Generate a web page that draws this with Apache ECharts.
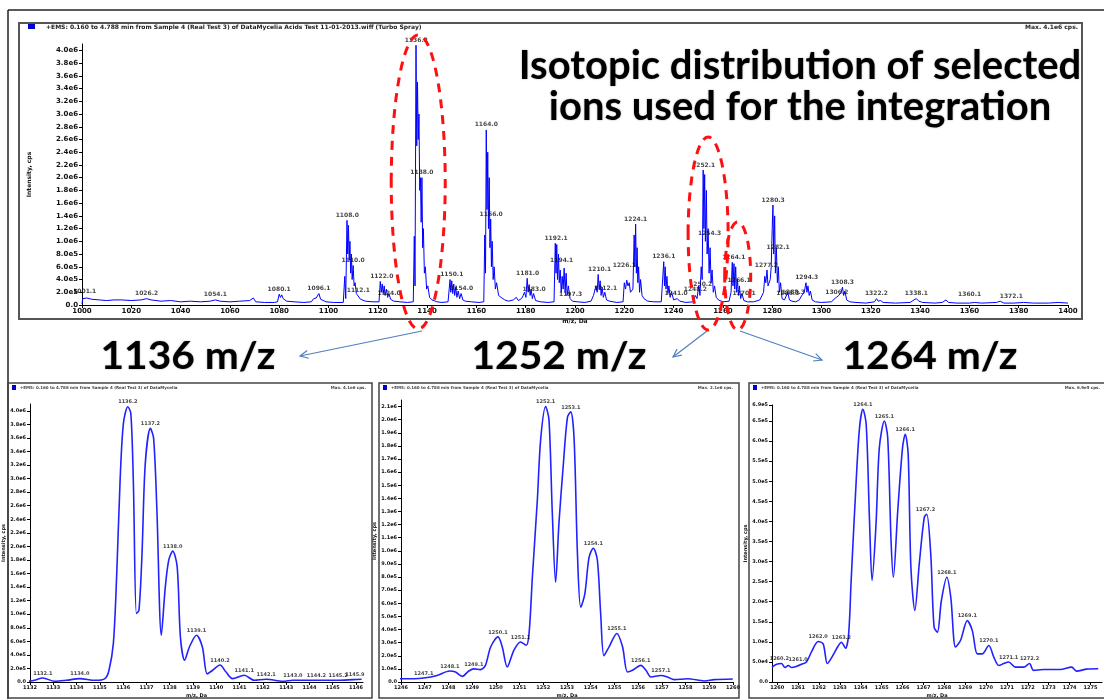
<!DOCTYPE html>
<html><head><meta charset="utf-8">
<script src="https://cdn.jsdelivr.net/npm/echarts@6/dist/echarts.min.js"></script>
<style>html,body{margin:0;padding:0;background:#fff}#c{width:1104px;height:699px}</style>
</head><body><div id="c"></div>
<script>
// ---------- DATA (intensities in millions of cps) ----------
const mainMz = [1000.0,1000.3,1001.1,1002,1004,1007,1010,1013,1016,1020,1024,1026.2,1028,1032,1036,1040,1044,1048,1052,1054.1,1056,1060,1064,1068,1069.5,1070.5,1074,1078,1079.3,1080.0,1080.5,1081.0,1081.6,1082.3,1083,1086,1090,1093,1094.0,1095.0,1096.1,1096.8,1097.5,1099,1102,1106,1106.6,1107.0,1107.5,1107.8,1108.1,1108.4,1108.7,1109.0,1109.3,1109.6,1110.0,1110.4,1110.8,1111.3,1112.1,1113,1115,1118,1120.5,1121.0,1121.4,1121.8,1122.2,1122.6,1123.0,1123.5,1124.0,1124.5,1125.2,1126.5,1129,1132,1134.4,1134.8,1135.1,1135.5,1135.8,1136.1,1136.4,1136.7,1137.0,1137.3,1137.6,1137.9,1138.2,1138.5,1138.9,1139.3,1139.8,1140.3,1141,1142,1144,1146,1148.5,1149.3,1149.6,1150.0,1150.4,1150.8,1151.2,1151.6,1152.1,1152.6,1153.2,1153.8,1154.5,1155.5,1158,1161,1163.0,1163.4,1163.7,1164.0,1164.3,1164.6,1164.9,1165.2,1165.5,1165.8,1166.1,1166.4,1166.8,1167.2,1167.7,1168.2,1169,1170,1171.5,1173,1175,1176.2,1177,1178.3,1179,1179.5,1180.1,1180.6,1181.0,1181.4,1181.8,1182.2,1182.7,1183.2,1184,1186,1189,1191.5,1192.0,1192.3,1192.6,1192.9,1193.3,1193.6,1194.0,1194.4,1194.8,1195.2,1195.6,1196.0,1196.4,1196.8,1197.3,1198,1199,1201,1204,1206.5,1207.5,1208.5,1209.0,1209.4,1209.8,1210.2,1210.6,1211.0,1211.5,1212.1,1212.8,1214,1217,1219.5,1220.0,1220.5,1221.0,1221.5,1222,1222.5,1223.5,1224.0,1224.3,1224.6,1224.9,1225.2,1225.5,1225.8,1226.2,1226.6,1227.2,1228,1229.5,1232,1235,1236.0,1236.3,1236.6,1236.9,1237.3,1237.7,1238.1,1238.6,1239.2,1240,1241.5,1242.5,1245,1248,1248.8,1249.5,1250.2,1250.7,1251.2,1251.6,1252.0,1252.3,1252.6,1252.9,1253.3,1253.6,1254.0,1254.4,1254.8,1255.2,1255.6,1256.1,1256.6,1257.3,1258.2,1260,1262.5,1263.3,1263.8,1264.1,1264.5,1264.8,1265.2,1265.5,1265.9,1266.3,1266.7,1267.2,1267.7,1268.5,1270,1272.5,1275,1276.5,1277.0,1277.4,1277.9,1278.3,1279.2,1279.6,1280.0,1280.3,1280.6,1281.0,1281.3,1281.7,1282.1,1282.5,1282.9,1283.4,1284,1285,1286.3,1287,1288,1289.5,1291,1292,1293,1293.7,1294.1,1294.5,1295,1295.5,1296.2,1297.5,1300,1304,1306,1307,1308.0,1308.5,1309,1309.5,1310.2,1311.5,1314,1318,1321.5,1322.3,1323,1324,1325,1330,1336,1337.5,1338.5,1339.5,1341,1346,1349,1350.5,1351.5,1355,1360,1362,1365,1371,1372.5,1374,1378,1382,1386,1392,1396,1400];
const mainInt = [0.02,0.10,0.13,0.11,0.09,0.08,0.07,0.08,0.08,0.07,0.08,0.10,0.08,0.06,0.07,0.05,0.06,0.05,0.06,0.08,0.06,0.05,0.06,0.07,0.11,0.05,0.04,0.04,0.05,0.17,0.12,0.16,0.10,0.11,0.06,0.05,0.04,0.05,0.10,0.11,0.18,0.09,0.07,0.05,0.04,0.04,0.45,0.10,1.33,0.80,1.25,0.70,1.00,0.50,0.80,0.40,0.62,0.30,0.35,0.18,0.20,0.09,0.06,0.05,0.05,0.37,0.20,0.33,0.18,0.30,0.15,0.25,0.12,0.18,0.09,0.06,0.05,0.04,0.05,1.08,0.30,4.08,2.50,3.50,2.60,3.00,1.80,2.00,1.30,2.00,0.90,1.20,0.50,0.60,0.25,0.30,0.12,0.08,0.05,0.04,0.05,0.40,0.20,0.38,0.18,0.33,0.15,0.28,0.12,0.22,0.10,0.18,0.08,0.06,0.05,0.04,0.05,1.10,0.50,2.75,1.50,2.40,1.20,2.00,0.90,1.35,0.60,1.00,0.40,0.60,0.25,0.35,0.15,0.12,0.08,0.06,0.08,0.12,0.07,0.10,0.15,0.20,0.12,0.42,0.20,0.32,0.15,0.25,0.10,0.18,0.07,0.05,0.04,0.05,0.97,0.50,0.95,0.40,0.80,0.35,0.55,0.20,0.45,0.25,0.58,0.20,0.50,0.15,0.30,0.10,0.06,0.05,0.04,0.06,0.15,0.30,0.20,0.48,0.25,0.38,0.15,0.28,0.12,0.20,0.08,0.06,0.04,0.05,0.35,0.25,0.39,0.30,0.35,0.20,0.25,1.10,0.60,1.27,0.50,0.90,0.35,0.60,0.20,0.40,0.15,0.10,0.06,0.05,0.05,0.68,0.30,0.60,0.25,0.45,0.18,0.30,0.12,0.20,0.08,0.10,0.06,0.04,0.05,0.15,0.10,0.30,0.15,0.60,0.40,2.12,1.20,2.05,1.00,1.80,0.80,1.20,0.50,0.90,0.35,0.55,0.20,0.30,0.12,0.08,0.05,0.06,0.20,0.67,0.30,0.65,0.25,0.60,0.20,0.40,0.15,0.30,0.10,0.18,0.07,0.05,0.05,0.08,0.20,0.45,0.35,0.55,0.30,0.40,0.60,1.20,1.57,0.80,1.40,0.50,0.90,0.35,0.60,0.20,0.35,0.10,0.08,0.20,0.08,0.06,0.05,0.08,0.15,0.20,0.35,0.20,0.30,0.15,0.22,0.08,0.05,0.04,0.05,0.12,0.15,0.20,0.28,0.15,0.22,0.08,0.05,0.04,0.03,0.05,0.10,0.06,0.07,0.04,0.03,0.04,0.08,0.10,0.06,0.04,0.03,0.04,0.08,0.04,0.03,0.03,0.04,0.03,0.04,0.06,0.03,0.03,0.04,0.03,0.03,0.04,0.03];
const mainLabelMz   = [1001.1,1026.2,1054.1,1080.0,1096.1,1107.6,1110.0,1112.1,1121.6,1124.6,1135.6,1137.9,1150.0,1154.0,1164.0,1166.0,1180.8,1183.4,1192.3,1194.6,1198.2,1210.0,1212.4,1220.0,1224.6,1236.0,1241.0,1248.8,1251.0,1252.2,1254.6,1264.4,1266.6,1268.6,1277.6,1280.4,1282.4,1286.3,1288.6,1294.0,1306.2,1308.5,1322.3,1338.5,1360.1,1377.0];
const mainLabelInt  = [0.13,0.10,0.08,0.17,0.18,1.33,0.62,0.15,0.37,0.10,4.08,2.00,0.40,0.18,2.75,1.35,0.42,0.16,0.97,0.62,0.08,0.48,0.18,0.55,1.27,0.68,0.10,0.16,0.25,2.12,1.05,0.67,0.30,0.10,0.55,1.57,0.82,0.10,0.12,0.35,0.12,0.28,0.10,0.10,0.08,0.06];
const mainLabelText = ['1001.1','1026.2','1054.1','1080.1','1096.1','1108.0','1110.0','1112.1','1122.0','1124.0','1136.2','1138.0','1150.1','1154.0','1164.0','1166.0','1181.0','1183.0','1192.1','1194.1','1197.3','1210.1','1212.1','1226.1','1224.1','1236.1','1241.0','1248.2','1250.2','1252.1','1254.3','1264.1','1266.1','1270.1','1277.2','1280.3','1282.1','1286.3','1288.3','1294.3','1306.2','1308.3','1322.2','1338.1','1360.1','1372.1'];

const p1Mz  = [1131.91,1132.19,1132.55,1133.06,1133.56,1134.14,1134.79,1135.22,1135.39,1135.58,1135.72,1135.87,1136.01,1136.20,1136.33,1136.44,1136.57,1136.68,1136.81,1136.95,1137.17,1137.31,1137.45,1137.64,1137.81,1137.96,1138.13,1138.32,1138.46,1138.64,1138.85,1139.15,1139.40,1139.61,1139.83,1140.16,1140.41,1140.70,1141.20,1141.63,1142.14,1142.86,1143.29,1144.30,1145.23,1145.88,1146.24];
const p1Int = [0.01,0.025,0.06,0.01,0.025,0.05,0.025,0.05,0.17,0.57,1.55,2.98,3.81,4.06,3.96,2.93,1.01,1.06,1.89,3.22,3.74,3.59,2.53,0.69,1.40,1.80,1.93,1.70,0.66,0.32,0.52,0.69,0.52,0.12,0.17,0.25,0.15,0.05,0.10,0.025,0.04,0.01,0.025,0.025,0.025,0.035,0.04];
const p1LabelMz   = [1132.55,1134.14,1136.2,1137.17,1138.13,1139.15,1140.16,1141.2,1142.14,1143.29,1144.3,1145.23,1145.95];
const p1LabelInt  = [0.06,0.05,4.06,3.74,1.93,0.69,0.25,0.10,0.04,0.025,0.025,0.025,0.035];
const p1LabelText = ['1132.1','1134.0','1136.2','1137.2','1138.0','1139.1','1140.2','1141.1','1142.1','1143.0','1144.2','1145.2','1145.9'];

const p2Mz  = [1245.95,1246.54,1246.96,1247.52,1248.06,1248.30,1248.58,1248.86,1249.07,1249.35,1249.56,1249.78,1250.09,1250.27,1250.48,1250.76,1251.04,1251.28,1251.40,1251.54,1251.75,1251.89,1252.10,1252.24,1252.38,1252.52,1252.66,1252.85,1253.02,1253.16,1253.30,1253.44,1253.58,1253.75,1253.93,1254.11,1254.28,1254.42,1254.56,1254.78,1255.10,1255.34,1255.55,1255.76,1256.11,1256.33,1256.54,1256.96,1257.24,1257.52,1258.09,1258.79,1259.21,1259.99];
const p2Int = [0.025,0.025,0.03,0.05,0.084,0.076,0.043,0.084,0.10,0.094,0.127,0.267,0.344,0.267,0.115,0.242,0.305,0.28,0.369,0.80,1.39,1.85,2.10,2.00,1.29,0.76,1.21,1.67,2.02,2.06,1.85,0.98,0.57,0.67,0.95,1.02,0.93,0.52,0.20,0.27,0.37,0.27,0.076,0.089,0.127,0.089,0.038,0.05,0.038,0.018,0.025,0.008,0.018,0.023];
const p2LabelMz   = [1246.96,1248.06,1249.07,1250.09,1251.04,1252.10,1253.16,1254.11,1255.10,1256.11,1256.96];
const p2LabelInt  = [0.03,0.084,0.10,0.344,0.305,2.10,2.06,1.02,0.37,0.127,0.05];
const p2LabelText = ['1247.1','1248.1','1249.1','1250.1','1251.1','1252.1','1253.1','1254.1','1255.1','1256.1','1257.1'];

const p3Mz  = [1259.75,1259.97,1260.21,1260.37,1260.53,1260.69,1260.93,1261.16,1261.40,1261.64,1261.96,1262.20,1262.40,1262.62,1262.91,1263.07,1263.27,1263.42,1263.54,1263.78,1263.94,1264.10,1264.26,1264.42,1264.54,1264.73,1264.89,1265.13,1265.29,1265.45,1265.56,1265.77,1266.00,1266.13,1266.27,1266.40,1266.59,1266.80,1267.04,1267.16,1267.35,1267.51,1267.67,1267.86,1268.12,1268.31,1268.54,1268.78,1269.10,1269.34,1269.58,1269.81,1270.13,1270.37,1270.61,1270.85,1271.08,1271.40,1271.80,1272.08,1272.27,1272.75,1273.54,1274.10,1274.34,1274.81,1275.37];
const p3Int = [0.037,0.044,0.046,0.036,0.041,0.036,0.039,0.044,0.050,0.075,0.101,0.095,0.046,0.062,0.089,0.099,0.084,0.12,0.253,0.50,0.633,0.679,0.642,0.40,0.253,0.393,0.584,0.65,0.609,0.352,0.261,0.426,0.584,0.617,0.567,0.286,0.178,0.294,0.41,0.418,0.319,0.137,0.124,0.203,0.261,0.211,0.087,0.104,0.153,0.128,0.07,0.07,0.091,0.062,0.041,0.046,0.05,0.037,0.037,0.046,0.029,0.031,0.031,0.037,0.027,0.032,0.033];
const p3LabelMz   = [1260.1,1261.0,1261.96,1263.07,1264.10,1265.13,1266.13,1267.1,1268.12,1269.10,1270.13,1271.08,1272.08];
const p3LabelInt  = [0.046,0.044,0.101,0.099,0.679,0.65,0.617,0.418,0.261,0.153,0.091,0.05,0.046];
const p3LabelText = ['1260.2','1261.0','1262.0','1263.2','1264.1','1265.1','1266.1','1267.2','1268.1','1269.1','1270.1','1271.1','1272.2'];

const p3XTicks = [1260,1261,1262,1263,1264,1265,1266,1267,1268,1269,1270,1271,1272,1273,1274,1275];

const headerText = '+EMS: 0.160 to 4.788 min from Sample 4 (Real Test 3) of DataMycelia Acids Test 11-01-2013.wiff (Turbo Spray)';
const panelHeader = '+EMS: 0.160 to 4.788 min from Sample 4 (Real Test 3) of DataMycelia';
const maxTexts = ['Max. 4.1e6 cps.','Max. 4.1e6 cps.','Max. 2.1e6 cps.','Max. 6.9e5 cps.'];
const bigTitle = ['Isotopic distribution of selected','ions used for the integration'];
const ionTitles = ['1136 m/z','1252 m/z','1264 m/z'];
const selectedMz = [1136.4, 1254, 1266];

// ---------- helpers ----------
function fmtE(v){
  const a = Math.round(v*1e6);
  if (a === 0) return '0.0';
  let e = Math.floor(Math.log10(a)+1e-9);
  return (a/Math.pow(10,e)).toFixed(1)+'e'+e;
}
const zip = (a,b)=>a.map((x,i)=>[x,b[i]]);
const zip3 = (a,b,c)=>a.map((x,i)=>({value:[x,b[i]], name:c[i]}));
const TXT = '#111';
const FF = 'DejaVu Sans';

function xAx(gi, min, max, interval, fs, showMax, extra){
  return Object.assign({
    type:'value', gridIndex:gi, min, max, interval,
    name:'m/z, Da', nameLocation:'middle', nameGap: gi===0?13:11,
    nameTextStyle:{fontSize: gi===0?6:5, color:TXT, fontFamily:FF, fontWeight:'bold'},
    axisLine:{lineStyle:{color:'#000',width:1}},
    axisTick:{length:3, lineStyle:{color:'#000'}},
    axisLabel:{fontSize:fs, color:TXT, fontFamily:FF, fontWeight:'bold', margin:3, showMaxLabel:showMax,
      formatter:v=>String(Math.round(v))},
    splitLine:{show:false}
  }, extra||{});
}
function yAx(gi, max, interval, fs, gap, showMax){
  return {
    type:'value', gridIndex:gi, min:0, max, interval,
    name:'Intensity, cps', nameLocation:'middle', nameGap:gap,
    nameTextStyle:{fontSize: gi===0?6:5, color:TXT, fontFamily:FF, fontWeight:'bold'},
    axisLine:{show:true, lineStyle:{color:'#000',width:1}},
    axisTick:{show:true, length:3, lineStyle:{color:'#000'}},
    axisLabel:{fontSize:fs, color:TXT, fontFamily:FF, fontWeight:'bold', margin:4, showMaxLabel:showMax,
      formatter:fmtE},
    splitLine:{show:false}
  };
}
function lineSeries(xi, data, color, width, smooth){
  return {type:'line', xAxisIndex:xi, yAxisIndex:xi, data, showSymbol:false, symbol:'none',
    smooth, lineStyle:{color, width}, animation:false, silent:true, z:3};
}
function labelSeries(xi, data, fs){
  return {type:'scatter', xAxisIndex:xi, yAxisIndex:xi, data, symbolSize:0.1, animation:false, silent:true, z:4,
    itemStyle:{color:'rgba(0,0,0,0)'},
    label:{show:true, position:'top', distance:2, formatter:p=>p.name, fontSize:fs, color:TXT, fontFamily:FF, fontWeight:'bold'}};
}

const chart = echarts.init(document.getElementById('c'), null, {renderer:'canvas'});
chart.setOption({
  animation:false,
  backgroundColor:'#fff',
  grid:[
    {left:82, right:36, top:44, bottom:394},
    {left:30, right:741, top:404, bottom:17},
    {left:401, right:371, top:400, bottom:17},
    {left:772, right:2, top:405, bottom:17}
  ],
  xAxis:[
    xAx(0,1000,1400,20,7,true),
    xAx(1,1132,1146.3,1,5,false),
    xAx(2,1246,1260,1,5,true),
    xAx(3,1259.75,1275.55,null,5,false,{axisLabel:{fontSize:5,color:TXT,fontFamily:FF,fontWeight:'bold',margin:3,customValues:p3XTicks,formatter:v=>String(Math.round(v))}, axisTick:{length:3,lineStyle:{color:'#000'},customValues:p3XTicks}})
  ],
  yAxis:[
    yAx(0,4.1,0.2,7,50,false),
    yAx(1,4.1,0.2,5,17,false),
    yAx(2,2.15,0.1,5,19,false),
    yAx(3,0.69,0.05,5,20,true)
  ],
  series:[
    lineSeries(0, zip(mainMz, mainInt), '#0000ff', 1, false),
    labelSeries(0, zip3(mainLabelMz, mainLabelInt, mainLabelText), 6),
    lineSeries(1, zip(p1Mz, p1Int), '#2222ff', 1.6, 0.3),
    labelSeries(1, zip3(p1LabelMz, p1LabelInt, p1LabelText), 5),
    lineSeries(2, zip(p2Mz, p2Int), '#2222ff', 1.6, 0.3),
    labelSeries(2, zip3(p2LabelMz, p2LabelInt, p2LabelText), 5),
    lineSeries(3, zip(p3Mz, p3Int), '#2222ff', 1.6, 0.3),
    labelSeries(3, zip3(p3LabelMz, p3LabelInt, p3LabelText), 5)
  ]
});

// ---------- annotations ----------
const g = [];
const stroke = (c,w)=>({fill:'rgba(0,0,0,0)', stroke:c, lineWidth:w});
// outer slide frame
g.push({type:'line', shape:{x1:8,y1:10,x2:1104,y2:10}, style:{stroke:'#222',lineWidth:1.5}});
g.push({type:'line', shape:{x1:8,y1:10,x2:8,y2:699}, style:{stroke:'#222',lineWidth:1.5}});
// main frame + header
g.push({type:'rect', shape:{x:19,y:23,width:1063,height:296}, style:stroke('#555',2)});
g.push({type:'rect', shape:{x:28,y:24,width:7,height:5}, style:{fill:'#0000cc'}});
g.push({type:'text', x:46, y:27, style:{text:headerText, font:'bold 6px "DejaVu Sans"', fill:'#222', verticalAlign:'middle'}});
g.push({type:'text', x:1078, y:27, style:{text:maxTexts[0], font:'bold 6px "DejaVu Sans"', fill:'#222', align:'right', verticalAlign:'middle'}});
// panels
const panels = [[8,383,364,315],[379,383,360,315],[749,383,360,315]];
panels.forEach((p,i)=>{
  g.push({type:'rect', shape:{x:p[0],y:p[1],width:p[2],height:p[3]}, style:stroke('#444',1.5)});
  g.push({type:'rect', shape:{x:p[0]+4,y:p[1]+2,width:4,height:5}, style:{fill:'#0000cc'}});
  g.push({type:'text', x:p[0]+12, y:p[1]+5, style:{text:panelHeader, font:'bold 4px "DejaVu Sans"', fill:'#444', verticalAlign:'middle'}});
  g.push({type:'text', x:Math.min(p[0]+p[2]-6,1100), y:p[1]+5, style:{text:maxTexts[i+1], font:'bold 4px "DejaVu Sans"', fill:'#444', align:'right', verticalAlign:'middle'}});
});
// big title
const shadow = {textShadowColor:'rgba(0,0,0,0.35)', textShadowBlur:2};
g.push({type:'text', x:800, y:66, z:50, style:Object.assign({text:bigTitle[0], font:'bold 40px Lato', fill:'#000', align:'center', verticalAlign:'middle'}, shadow)});
g.push({type:'text', x:800, y:107, z:50, style:Object.assign({text:bigTitle[1], font:'bold 40px Lato', fill:'#000', align:'center', verticalAlign:'middle'}, shadow)});
// ion titles
const ionX = [188, 559, 930];
ionTitles.forEach((t,i)=>{
  g.push({type:'text', x:ionX[i], y:357, z:50, scaleX:1.07, scaleY:1, style:Object.assign({text:t, font:'bold 38px Lato', fill:'#000', align:'center', verticalAlign:'middle'}, shadow)});
});
// ellipses around selected ions
const ellTop = [35,137,222], ellBot = [329,330,330], ellRx = [27,20,13];
selectedMz.forEach((m,i)=>{
  const cx = chart.convertToPixel({xAxisIndex:0}, m);
  g.push({type:'ellipse', z:100, shape:{cx, cy:(ellTop[i]+ellBot[i])/2, rx:ellRx[i], ry:(ellBot[i]-ellTop[i])/2},
    style:{fill:'rgba(0,0,0,0)', stroke:'#ff1010', lineWidth:3, lineDash:[9,7]}});
});
// arrows
const arrows = [[[422,331],[300,356]],[[707,331],[673,357]],[[740,331],[822,360]]];
arrows.forEach(a=>{
  const [p0,p1] = a;
  g.push({type:'line', z:60, shape:{x1:p0[0],y1:p0[1],x2:p1[0],y2:p1[1]}, style:{stroke:'#4f81bd',lineWidth:1.2}});
  const ang = Math.atan2(p1[1]-p0[1], p1[0]-p0[0]);
  const L = 9, w = 0.45;
  const h1 = [p1[0]-L*Math.cos(ang-w), p1[1]-L*Math.sin(ang-w)];
  const h2 = [p1[0]-L*Math.cos(ang+w), p1[1]-L*Math.sin(ang+w)];
  g.push({type:'polyline', z:60, shape:{points:[h1,p1,h2]}, style:{stroke:'#4f81bd',lineWidth:1.2, fill:null}});
});
chart.setOption({graphic:{elements:g}});
</script></body></html>
